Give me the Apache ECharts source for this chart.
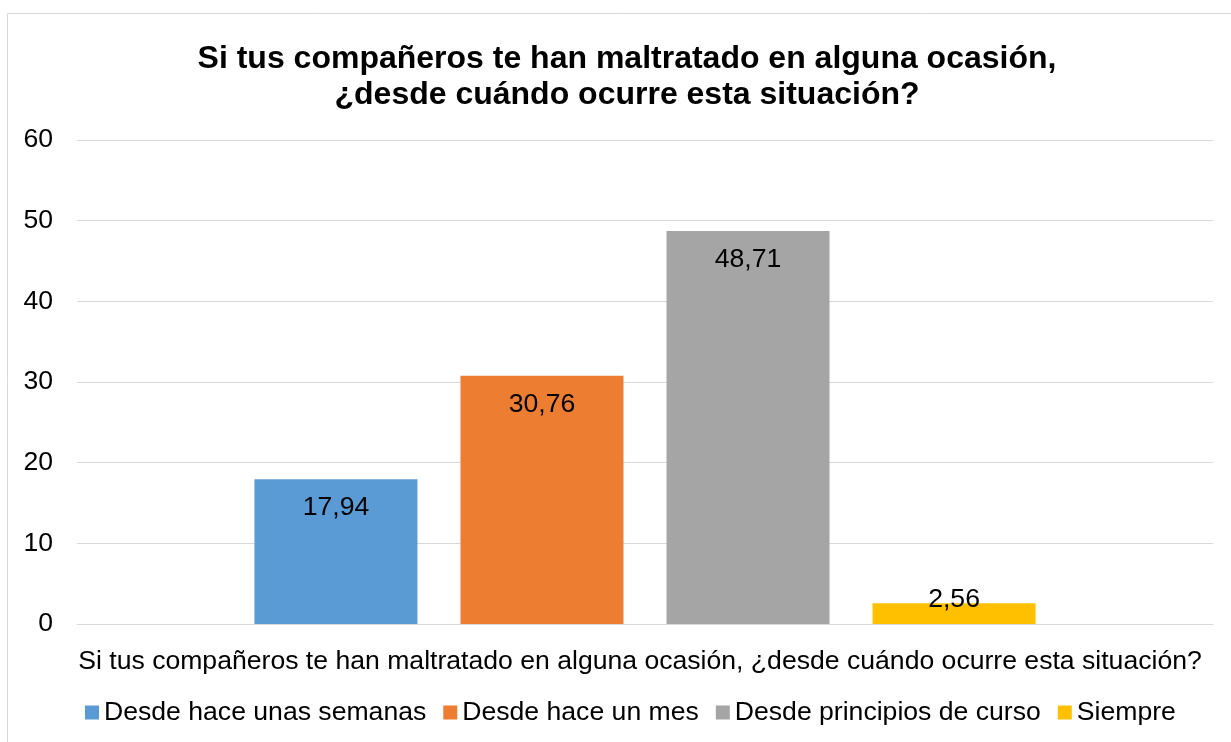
<!DOCTYPE html>
<html>
<head>
<meta charset="utf-8">
<script src="https://cdn.jsdelivr.net/npm/echarts@6/dist/echarts.min.js"></script>
<style>
html,body{margin:0;padding:0;background:#fff;}
#chart{width:1231px;height:742px;}
</style>
</head>
<body>
<div id="chart"></div>
<script>
const titleText = "Si tus compañeros te han maltratado en alguna ocasión,\n¿desde cuándo ocurre esta situación?";
const categories = ["Si tus compañeros te han maltratado en alguna ocasión, ¿desde cuándo ocurre esta situación?"];
const seriesNames = ["Desde hace unas semanas", "Desde hace un mes", "Desde principios de curso", "Siempre"];
const seriesValues = [[17.94], [30.76], [48.71], [2.56]];
const seriesColors = ["#5B9BD5", "#ED7D31", "#A5A5A5", "#FFC000"];
const yTicks = [0, 10, 20, 30, 40, 50, 60];

const FONT = "Liberation Sans, Arial, sans-serif";
const FS = 26.6;
const chart = echarts.init(document.getElementById('chart'));

const series = seriesNames.map((name, i) => ({
  name: name,
  type: 'bar',
  data: seriesValues[i],
  barWidth: 163,
  barGap: '26.4%',
  itemStyle: { color: seriesColors[i] },
  label: {
    show: true,
    position: 'insideTop',
    distance: seriesValues[i][0] < 5 ? -17 : 15,
    color: '#000',
    fontSize: FS,
    fontFamily: FONT,
    formatter: p => p.value.toFixed(2).replace('.', ',')
  }
}));

chart.setOption({
  animation: false,
  backgroundColor: '#fff',
  title: {
    text: titleText,
    left: 622,
    textAlign: 'center',
    top: 36,
    textStyle: { fontSize: 32, fontWeight: 'bold', color: '#000', fontFamily: FONT, lineHeight: 36 }
  },
  graphic: [{
    type: 'rect',
    shape: { x: 7.5, y: 13.5, width: 1240, height: 760 },
    style: { fill: 'none', stroke: '#D9D9D9', lineWidth: 1 },
    silent: true
  }],
  legend: {
    top: 694,
    left: 80,
    itemWidth: 14,
    itemHeight: 14,
    itemGap: 17,
    icon: 'rect',
    textStyle: { fontSize: FS, color: '#000', fontFamily: FONT, padding: [0, 0, 0, 0] },
    data: seriesNames
  },
  grid: { left: 77, right: 18, top: 140, bottom: 118, containLabel: false },
  xAxis: {
    type: 'category',
    data: categories,
    axisLine: { show: true, lineStyle: { color: '#D9D9D9' } },
    axisTick: { show: false },
    axisLabel: { fontSize: FS, color: '#000', fontFamily: FONT, margin: 24, padding: [0, 10, 0, 0] }
  },
  yAxis: {
    type: 'value',
    min: yTicks[0],
    max: yTicks[yTicks.length - 1],
    interval: 10,
    axisLine: { show: false },
    axisTick: { show: false },
    splitLine: { lineStyle: { color: '#D9D9D9', width: 1 } },
    axisLabel: { fontSize: FS, color: '#000', fontFamily: FONT, margin: 24 }
  },
  series: series
});
</script>
</body>
</html>
